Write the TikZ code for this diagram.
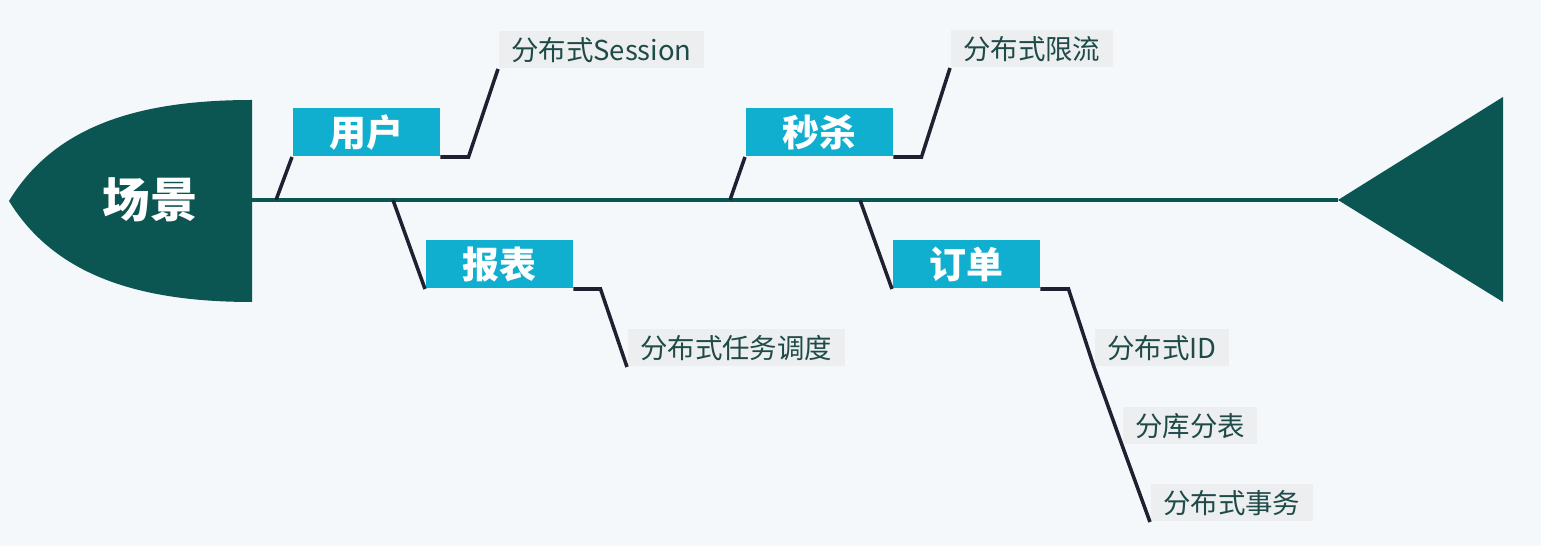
\documentclass[tikz,border=0pt]{standalone}
\usepackage{fontspec}
\setmainfont{Noto Sans CJK SC}
\usetikzlibrary{positioning}
\definecolor{fishbg}{HTML}{F4F8FB}
\definecolor{fishgreen}{HTML}{0B5652}
\definecolor{fishcyan}{HTML}{10AECF}
\definecolor{bonecolor}{HTML}{1F2131}
\definecolor{leafbg}{HTML}{ECEEEF}
\definecolor{leaftext}{HTML}{1E4A48}

\begin{document}
\begin{tikzpicture}[x=0.01cm, y=-0.01cm]
\tikzstyle{fish} = [fill=fishgreen]
\tikzstyle{cause} = [fill=fishcyan, text=white, inner sep=0pt,
  minimum width=1.47cm, minimum height=0.48cm,
  font=\fontsize{10.5}{12}\selectfont\bfseries]
\tikzstyle{leaf} = [fill=leafbg, text=leaftext, inner xsep=0.125cm, inner ysep=0pt,
  minimum height=0.37cm, font=\fontsize{7.8}{10}\selectfont]
\tikzstyle{bone} = [draw=bonecolor, line width=1pt]

\fill[fishbg] (0,0) rectangle (1541,546);
\useasboundingbox (0,0) rectangle (1541,546);

% head, spine and tail
\coordinate (spineL) at (252,200);
\coordinate (spineR) at (1338,200);
\fill[fish] (252,100) -- (252,302) .. controls (140,302) and (55,276) .. (9,201)
  .. controls (55,125) and (140,100) .. (252,100) -- cycle;
\node[text=white, font=\fontsize{13.5}{16}\selectfont\bfseries] (head) at (150,200) {场景};
\draw[fishgreen, line width=1pt] (spineL) -- (spineR);
\fill[fish] (spineR) -- (1503,97) -- (1503,302) -- cycle;

% causes
\node[cause, anchor=south west] (user) at (292,157) {用户};
\node[cause, anchor=south west] (seckill) at (745,157) {秒杀};
\node[cause, anchor=south west] (report) at (425,289) {报表};
\node[cause, anchor=south west] (order) at (892,289) {订单};

% leaves
\node[leaf, anchor=south west] (session) at (498,69) {分布式Session};
\node[leaf, anchor=south west] (limit) at (950,68) {分布式限流};
\node[leaf, anchor=south west] (sched) at (627,367) {分布式任务调度};
\node[leaf, anchor=south west] (distid) at (1094,367) {分布式ID};
\node[leaf, anchor=south west] (shard) at (1122,445) {分库分表};
\node[leaf, anchor=south west] (disttx) at (1150,522) {分布式事务};

% bones
\coordinate (u0) at (276,200);
\coordinate (s0) at (730,200);
\coordinate (r0) at (393,200);
\coordinate (o0) at (860,200);
\draw[bone] (u0) -- (user.south west);
\draw[bone] (user.south east) -- ++(28,0) -- (session.south west);
\draw[bone] (s0) -- (seckill.south west);
\draw[bone] (seckill.south east) -- ++(28,0) -- (limit.south west);
\draw[bone] (r0) -- (report.south west);
\draw[bone] (report.south east) -- ++(27,0) -- (sched.south west);
\draw[bone] (o0) -- (order.south west);
\draw[bone] (order.south east) -- ++(28,0) -- (distid.south west)
  -- (shard.south west) -- (disttx.south west);
\end{tikzpicture}
\end{document}
